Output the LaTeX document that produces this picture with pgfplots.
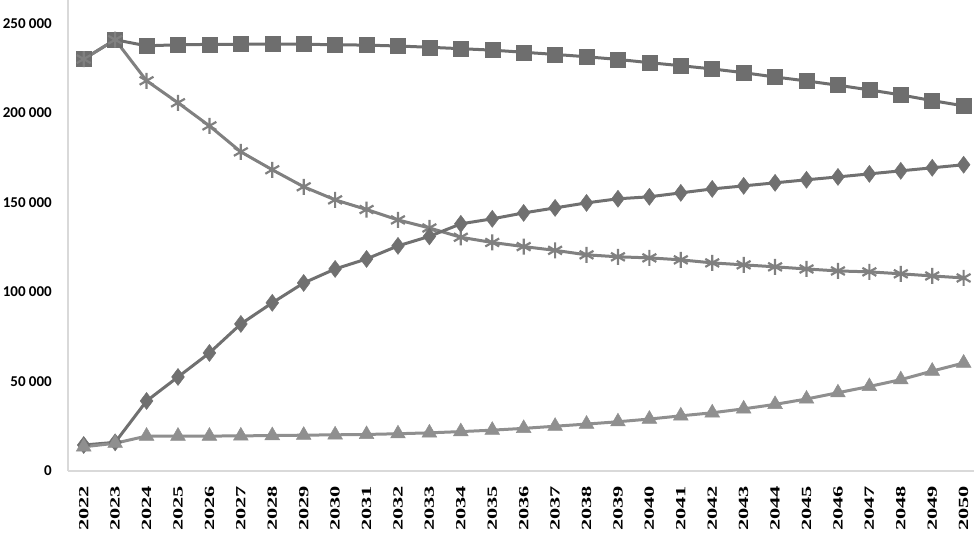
\documentclass[border=0pt]{standalone}
\usepackage{pgfplots}
\pgfplotsset{compat=1.18}
\usepackage{fontspec}
\usepackage{graphicx}
\setmainfont{Carlito}
\newfontfamily\yearfont{Liberation Serif}
\definecolor{sqgray}{HTML}{6E6E6E}
\definecolor{digray}{HTML}{707070}
\definecolor{stgray}{HTML}{808080}
\definecolor{trgray}{HTML}{8F8F8F}
\definecolor{axisgray}{HTML}{D9D9D9}
\newcommand{\yr}[1]{\scalebox{1.6}[1]{\yearfont\bfseries\fontsize{14bp}{14bp}\selectfont #1}}

\pgfplotstableread{
year sq st di tr
2022 230000 230000 14500 13500
2023 240800 240800 16000 15500
2024 237400 217900 39100 19500
2025 238000 205600 52500 19500
2026 238200 192700 65900 19500
2027 238300 178200 82100 19600
2028 238400 168200 93900 19800
2029 238300 158700 105000 20000
2030 238000 151400 112800 20200
2031 237800 146000 118400 20400
2032 237300 140200 125700 20800
2033 236600 135700 131000 21300
2034 235800 130500 138000 22000
2035 235000 127600 140800 22800
2036 233800 125300 144100 23800
2037 232600 123200 146900 25000
2038 231300 120700 149700 26200
2039 229800 119600 152000 27500
2040 228000 119000 153100 29000
2041 226300 117900 155300 30800
2042 224500 116200 157500 32500
2043 222400 115100 159200 34700
2044 220000 114000 160900 37200
2045 217800 112800 162600 40200
2046 215400 111700 164200 43700
2047 212800 111200 165900 47200
2048 210000 110100 167600 51000
2049 206800 108900 169300 55800
2050 203900 107800 171000 60300
}\datatable

\begin{document}
\begin{tikzpicture}[x=1bp,y=1bp]
\useasboundingbox (0,0) rectangle (974,536);
\begin{axis}[at={(68bp,65bp)},anchor=south west,scale only axis,
  width=906bp,height=471bp,
  xmin=2021.5,xmax=2050.33,ymin=0,ymax=263000,
  axis x line=bottom,axis y line=left,
  axis line style={draw=axisgray,line width=1.5bp,-},
  major tick length=0pt,
  xtick={2022,2023,...,2050},
  xticklabels={\yr{2022},\yr{2023},\yr{2024},\yr{2025},\yr{2026},\yr{2027},\yr{2028},\yr{2029},\yr{2030},\yr{2031},\yr{2032},\yr{2033},\yr{2034},\yr{2035},\yr{2036},\yr{2037},\yr{2038},\yr{2039},\yr{2040},\yr{2041},\yr{2042},\yr{2043},\yr{2044},\yr{2045},\yr{2046},\yr{2047},\yr{2048},\yr{2049},\yr{2050}},
  xticklabel style={yshift=-15bp,rotate=90,anchor=east,inner sep=0pt},
  ytick={0,50000,100000,150000,200000,250000},
  yticklabels={0,50 000,100 000,150 000,200 000,250 000},
  yticklabel style={anchor=east,inner sep=0pt,xshift=-16bp,
    font=\bfseries\fontsize{15bp}{15bp}\selectfont},
  clip=false,
  every axis plot/.append style={line width=3bp}]
  \addplot[sqgray,mark=square*,mark size=7.5bp,mark options={line width=0.5bp}] table[x=year,y=sq] {\datatable};
  \addplot[stgray,mark=asterisk,mark size=8bp,mark options={line width=2.2bp}] table[x=year,y=st] {\datatable};
  \addplot[digray,mark=diamond*,mark size=8.5bp,mark options={line width=0.5bp}] table[x=year,y=di] {\datatable};
  \addplot[trgray,mark=triangle*,mark size=8.5bp,mark options={line width=0.5bp}] table[x=year,y=tr] {\datatable};
\end{axis}
\end{tikzpicture}
\end{document}
